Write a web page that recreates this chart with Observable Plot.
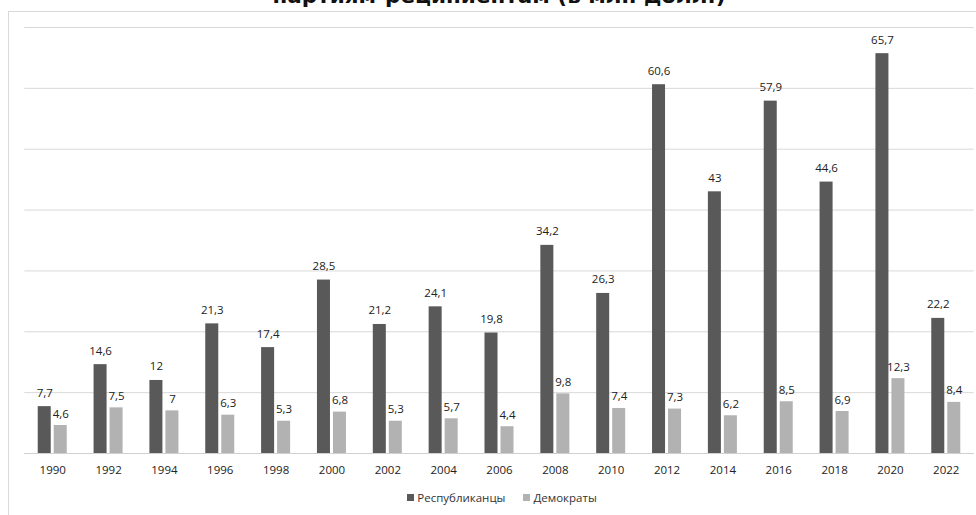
<!DOCTYPE html>
<html>
<head>
<meta charset="utf-8">
<script src="https://cdn.jsdelivr.net/npm/d3@7"></script>
<script src="https://cdn.jsdelivr.net/npm/@observablehq/plot@0.6"></script>
<style>
  html, body { margin: 0; padding: 0; background: #fff; width: 976px; height: 515px; overflow: hidden; }
  #wrap { position: relative; width: 976px; height: 515px; }
  #frame { position: absolute; left: 8px; top: 11px; width: 1000px; height: 600px; border: 1px solid #d9d9d9; box-sizing: border-box; }
  #title { position: absolute; left: 0; width: 998px; top: -15px; text-align: center; font-family: "DejaVu Sans", Verdana, sans-serif; font-weight: bold; font-size: 21.5px; line-height: 22px; color: #111; white-space: nowrap; }
  #chart { position: absolute; left: 0; top: 0; }
  #legend { position: absolute; left: 0; width: 1004px; top: 490px; display: flex; justify-content: center; gap: 18px; font-family: "Open Sans", sans-serif; font-size: 11.5px; color: #333; }
  #legend span.item { display: flex; align-items: center; gap: 3px; }
  #legend span.sw { display: inline-block; width: 7px; height: 7px; }
</style>
</head>
<body>
<div id="wrap">
  <div id="frame"></div>
  <div id="chart"></div>
  <div id="title">партиям-реципиентам (в млн долл.)</div>
  <div id="legend"></div>
</div>
<script>
const years = ["1990","1992","1994","1996","1998","2000","2002","2004","2006","2008","2010","2012","2014","2016","2018","2020","2022"];
const republicans = [7.7, 14.6, 12, 21.3, 17.4, 28.5, 21.2, 24.1, 19.8, 34.2, 26.3, 60.6, 43, 57.9, 44.6, 65.7, 22.2];
const democrats = [4.6, 7.5, 7, 6.3, 5.3, 6.8, 5.3, 5.7, 4.4, 9.8, 7.4, 7.3, 6.2, 8.5, 6.9, 12.3, 8.4];
const seriesNames = ["Республиканцы", "Демократы"];
const seriesColors = ["#595959", "#b2b2b2"];
const gridTicks = [0, 10, 20, 30, 40, 50, 60, 70];

const rep = years.map((y, i) => ({year: y, value: republicans[i]}));
const dem = years.map((y, i) => ({year: y, value: democrats[i]}));
const fmt = v => String(v).replace(".", ",");

const font = "Open Sans, sans-serif";
const chart = Plot.plot({
  width: 976,
  height: 480,
  marginLeft: 24.3,
  marginRight: 2.3,
  marginTop: 27,
  marginBottom: 27,
  style: {fontFamily: font, fontSize: "11.5px", color: "#222", background: "transparent"},
  x: {domain: years, paddingInner: 0.767, paddingOuter: 0.3835, round: false, label: null, tickSize: 0, tickPadding: 12},
  y: {domain: [0, 70], axis: null},
  marks: [
    Plot.gridY(gridTicks, {stroke: "#d9d9d9", strokeOpacity: 1, strokeWidth: 1}),
    Plot.barY(rep, {x: "year", y: "value", fill: seriesColors[0], dx: -8}),
    Plot.barY(dem, {x: "year", y: "value", fill: seriesColors[1], dx: 8}),
    Plot.ruleY([0], {stroke: "#d0d0d0", strokeWidth: 1}),
    Plot.text(rep, {x: "year", y: "value", text: d => fmt(d.value), dx: -8, dy: -10, lineAnchor: "bottom", fill: "#222"}),
    Plot.text(dem, {x: "year", y: "value", text: d => fmt(d.value), dx: 8, dy: -8, lineAnchor: "bottom", fill: "#222"})
  ]
});
document.getElementById("chart").appendChild(chart);

const legend = document.getElementById("legend");
seriesNames.forEach((name, i) => {
  const item = document.createElement("span");
  item.className = "item";
  const sw = document.createElement("span");
  sw.className = "sw";
  sw.style.background = seriesColors[i];
  const label = document.createElement("span");
  label.textContent = name;
  item.appendChild(sw);
  item.appendChild(label);
  legend.appendChild(item);
});
</script>
</body>
</html>
